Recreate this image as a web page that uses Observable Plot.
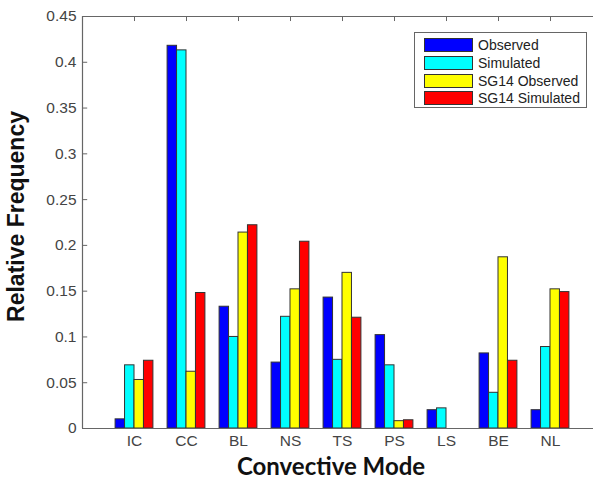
<!DOCTYPE html>
<html>
<head>
<meta charset="utf-8">
<script src="https://cdn.jsdelivr.net/npm/d3@7"></script>
<script src="https://cdn.jsdelivr.net/npm/@observablehq/plot@0.6"></script>
<style>
  body { margin: 0; background: white; }
  #wrap { position: relative; width: 593px; height: 478px; overflow: hidden; background: white; }
  #legend { position: absolute; left: 414px; top: 32px; width: 173px; height: 76px; border: 1px solid #666; background: white; box-sizing: border-box; font-family: "Liberation Sans", Arial, sans-serif; font-size: 14px; color: #222; }
  .row { position: absolute; left: 9px; height: 14px; display: flex; align-items: center; }
  .sw { width: 47px; height: 12px; border: 1px solid #333; margin-right: 5px; }
</style>
</head>
<body>
<div id="wrap"></div>
<script>
const categories = ["IC", "CC", "BL", "NS", "TS", "PS", "LS", "BE", "NL"];
const seriesNames = ["Observed", "Simulated", "SG14 Observed", "SG14 Simulated"];
const seriesColors = ["#0000ff", "#00ffff", "#ffff00", "#ff0000"];
const observed      = [0.010, 0.418, 0.133, 0.072, 0.143, 0.102, 0.020, 0.082, 0.020];
const simulated     = [0.069, 0.413, 0.100, 0.122, 0.075, 0.069, 0.022, 0.039, 0.089];
const sg14Observed  = [0.053, 0.062, 0.214, 0.152, 0.170, 0.008, 0.000, 0.187, 0.152];
const sg14Simulated = [0.074, 0.148, 0.222, 0.204, 0.121, 0.009, 0.000, 0.074, 0.149];
const yTicks = [0, 0.05, 0.1, 0.15, 0.2, 0.25, 0.3, 0.35, 0.4, 0.45];

const seriesValues = [observed, simulated, sg14Observed, sg14Simulated];
const nS = seriesValues.length;
const groupWidth = Math.min(0.8, nS / (nS + 1.5));
const barW = groupWidth / nS;
const table = [];
categories.forEach((c, i) => {
  seriesValues.forEach((vals, j) => {
    const x1 = (i + 1) - groupWidth / 2 + j * barW;
    table.push({category: c, series: seriesNames[j], value: vals[i], x1, x2: x1 + barW});
  });
});
const catPos = categories.map((c, i) => i + 1);

const chart = Plot.plot({
  width: 593,
  height: 478,
  marginLeft: 82,
  marginRight: 0,
  marginTop: 16,
  marginBottom: 50,
  style: {fontFamily: "'Liberation Sans', Arial, sans-serif", fontSize: "15.5px", color: "#444", background: "white"},
  x: {domain: [0, 10], range: [82, 602]},
  y: {domain: [0, 0.45]},
  color: {domain: seriesNames, range: seriesColors},
  marks: [
    Plot.rectY(table, {x1: "x1", x2: "x2", y1: 0, y2: "value", fill: "series", stroke: "#333", strokeWidth: 1}),
    Plot.ruleY([0, 0.45], {x1: 0, x2: 10, stroke: "#666", strokeWidth: 1.2}),
    Plot.ruleX([0], {y1: 0, y2: 0.45, stroke: "#666", strokeWidth: 1.2}),
    Plot.ruleY(yTicks, {x1: 0, x2: 0.1, stroke: "#666"}),
    Plot.ruleX(catPos, {y1: 0.45, y2: 0.4445, stroke: "#666"}),
    Plot.axisY({ticks: yTicks, tickSize: 0, tickPadding: 6, tickFormat: d => String(+d.toFixed(2)), label: null, fill: "#444"}),
    Plot.axisX({ticks: catPos, tickSize: 0, tickPadding: 6, tickFormat: d => categories[d - 1], label: null, fill: "#444"}),
    Plot.text(["Relative Frequency"], {frameAnchor: "left", textAnchor: "middle", rotate: -90, dx: -66, dy: -6, fontSize: 23, fontWeight: "bold", fill: "#111", fontFamily: "'Liberation Sans', Arial, sans-serif"}),
    Plot.text(["Convective Mode"], {frameAnchor: "bottom", dx: -7, dy: 46, fontSize: 24, fontWeight: "bold", fill: "#111", fontFamily: "Lato, 'Open Sans', sans-serif"})
  ]
});
const wrap = document.getElementById("wrap");
wrap.appendChild(chart);

const legend = document.createElement("div");
legend.id = "legend";
seriesNames.forEach((name, j) => {
  const row = document.createElement("div");
  row.className = "row";
  row.style.top = (5 + j * 17.8) + "px";
  const sw = document.createElement("div");
  sw.className = "sw";
  sw.style.background = seriesColors[j];
  const label = document.createElement("span");
  label.textContent = name;
  row.appendChild(sw);
  row.appendChild(label);
  legend.appendChild(row);
});
wrap.appendChild(legend);
</script>
</body>
</html>
